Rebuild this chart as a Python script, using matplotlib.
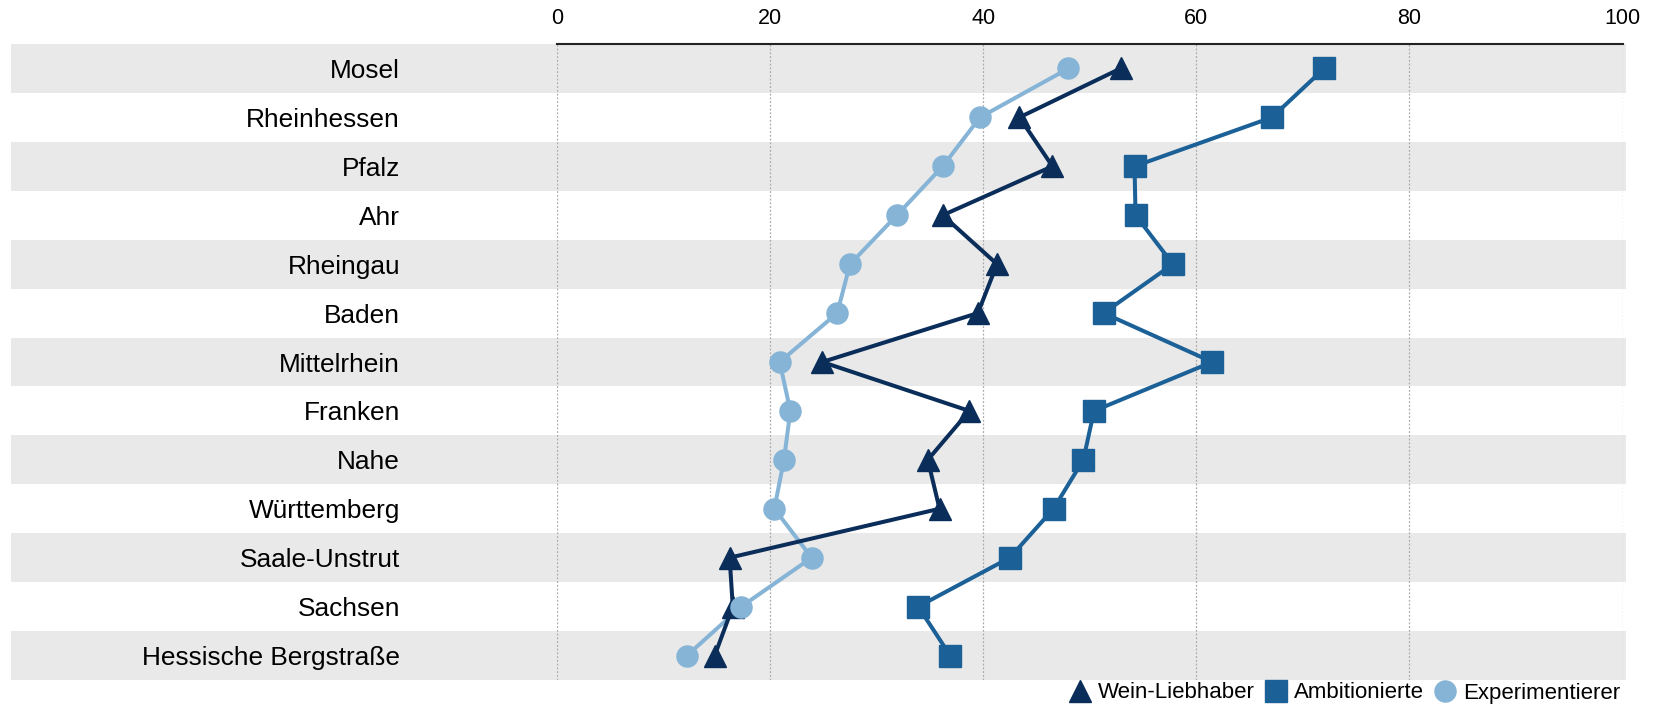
import matplotlib
matplotlib.use("Agg")
import matplotlib.pyplot as plt
from matplotlib.lines import Line2D

plt.rcParams["font.family"] = ["Liberation Sans", "DejaVu Sans"]

regions = ["Mosel", "Rheinhessen", "Pfalz", "Ahr", "Rheingau", "Baden",
           "Mittelrhein", "Franken", "Nahe", "Württemberg", "Saale-Unstrut",
           "Sachsen", "Hessische Bergstraße"]
wein_liebhaber = [52.9, 43.4, 46.5, 36.2, 41.3, 39.5, 24.9, 38.7, 34.8, 35.9, 16.2, 16.5, 14.8]
ambitionierte = [72.0, 67.1, 54.2, 54.3, 57.8, 51.3, 61.5, 50.4, 49.4, 46.6, 42.5, 33.9, 36.9]
experimentierer = [48.0, 39.7, 36.2, 31.9, 27.5, 26.3, 20.9, 21.9, 21.3, 20.4, 23.9, 17.3, 12.2]
xticks = [0, 20, 40, 60, 80, 100]

c_wein = "#0a2d5a"
c_amb = "#1b6096"
c_exp = "#86b4d6"
band = "#e9e9e9"

W, H = 1655, 705
fig = plt.figure(figsize=(W / 100, H / 100), dpi=100)

left, right = 557 / W, 1622.5 / W
top, bottom = 1 - 44 / H, 1 - 680 / H

y = list(range(len(regions)))

# striped background running under the labels too
bg = fig.add_axes([11 / W, bottom, (1625.5 - 11) / W, top - bottom], zorder=0)
bg.set_ylim(len(regions) - 0.5, -0.5)
bg.set_xlim(0, 1)
for i in y:
    if i % 2 == 0:
        bg.axhspan(i - 0.5, i + 0.5, color=band, lw=0)
bg.axis("off")

ax = fig.add_axes([left, bottom, right - left, top - bottom], zorder=1)
ax.patch.set_alpha(0)
ax.set_xlim(0, 100)
ax.set_ylim(len(regions) - 0.5, -0.5)

ms = 15.2
lw = 2.9
ax.plot(experimentierer, y, color=c_exp, lw=lw, zorder=2)
ax.plot(wein_liebhaber, y, color=c_wein, lw=lw, zorder=3)
ax.plot(ambitionierte, y, color=c_amb, lw=lw, zorder=3)
ax.plot(wein_liebhaber, y, ls="none", marker="^", ms=ms, color=c_wein, zorder=4)
ax.plot(ambitionierte, y, ls="none", marker="s", ms=ms, color=c_amb, zorder=4)
ax.plot(experimentierer, y, ls="none", marker="o", ms=ms, color=c_exp, zorder=5)

ax.xaxis.tick_top()
ax.set_xticks(xticks)
ax.set_xticklabels([str(t) for t in xticks])
ax.tick_params(axis="x", length=0, pad=11, labelsize=15.5, colors="#000000")
ax.set_yticks(y)
ax.set_yticklabels(regions)
ax.tick_params(axis="y", length=0, pad=113, labelsize=18.9)
for lab in ax.get_yticklabels():
    lab.set_horizontalalignment("right")

ax.grid(axis="x", color="#aaaaaa", ls=(0, (1.5, 1.5)), lw=0.9)
ax.set_axisbelow(True)
for s in ["left", "right", "bottom"]:
    ax.spines[s].set_visible(False)
ax.spines["top"].set_color("#222222")
ax.spines["top"].set_linewidth(1.5)

handles = [
    Line2D([], [], ls="none", marker="^", ms=ms, color=c_wein),
    Line2D([], [], ls="none", marker="s", ms=ms, color=c_amb),
    Line2D([], [], ls="none", marker="o", ms=ms, color=c_exp),
]
fig.legend(handles, ["Wein-Liebhaber", "Ambitionierte", "Experimentierer"],
           loc="center right", bbox_to_anchor=(1620 / W, 1 - 693 / H),
           ncol=3, frameon=False, fontsize=16, handlelength=1.0,
           handletextpad=0.3, columnspacing=0.45, borderpad=0, borderaxespad=0)

fig.savefig("out.png", dpi=100)
